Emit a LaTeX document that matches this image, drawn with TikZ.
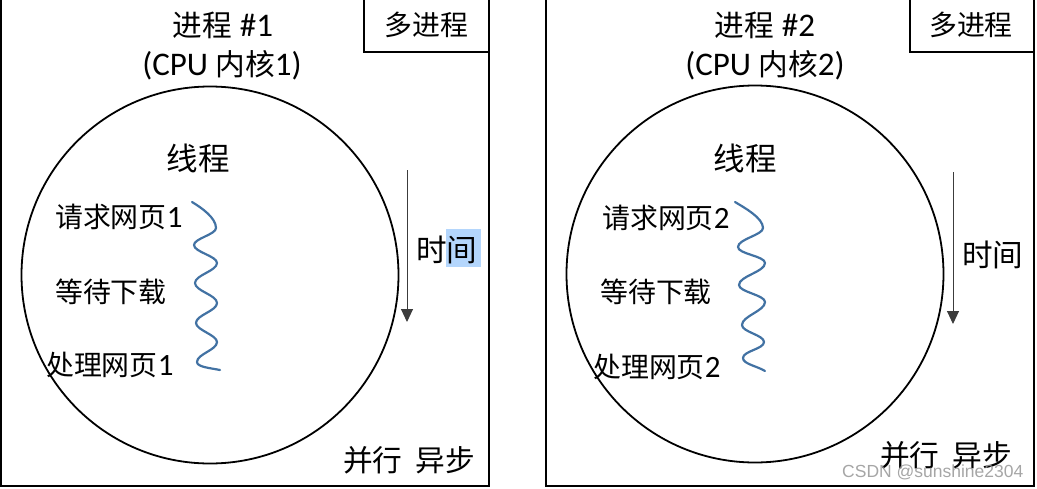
\documentclass[tikz,border=0pt]{standalone}
\usepackage{fontspec}
\setmainfont{Carlito}
\newfontfamily\cjk{Noto Sans CJK SC}[Scale=0.9]
\newfontfamily\wmfont{Liberation Sans}
\usetikzlibrary{arrows.meta}
\definecolor{wavecol}{RGB}{66,114,163}
\definecolor{hlcol}{RGB}{180,214,252}
\definecolor{arrcol}{RGB}{60,60,60}
\definecolor{wmcol}{RGB}{150,150,150}
\tikzset{
  lbl/.style={inner sep=0pt, font=\fontsize{31}{36}\selectfont},
  biglbl/.style={inner sep=0pt, font=\fontsize{33}{38}\selectfont},
  thrlbl/.style={inner sep=0pt, font=\fontsize{35}{40}\selectfont},
  timelbl/.style={inner sep=0pt, font=\fontsize{34}{40}\selectfont},
  panel/.style={draw=black, line width=2pt},
  tagbox/.style={draw=black, line width=1.6pt},
  ring/.style={draw=black, circle, line width=1.8pt, inner sep=0pt, minimum size=377pt},
  timearrow/.style={draw=arrcol, line width=1pt, -{Triangle[width=12pt,length=13pt]}},
  wavy/.style={draw=wavecol, line width=2.2pt, line cap=round},
  wm/.style={inner sep=0pt, text=wmcol, font=\wmfont\fontsize{17.5}{20}\selectfont}
}
\begin{document}
\begin{tikzpicture}[x=1pt,y=-1pt]
\useasboundingbox (0,0) rectangle (1037,488);
% ---------- left panel ----------
\draw[panel] (0.5,-2) rectangle (488.5,485.5);
\draw[tagbox] (364,-2) rectangle (488.5,52);
\node[lbl] (tagL) at (426.5,25) {\cjk 多进程};
\node[biglbl] (procL) at (223,25) {{\cjk 进程} \#1};
\node[biglbl] (cpuL) at (222,65) {(CPU {\cjk 内核}1)};
\node[ring] (ringL) at (210,275) {};
\node[thrlbl] (thrL) at (198,158) {\cjk 线程};
\node[lbl, anchor=west] (reqL) at (55,217) {{\cjk 请求网页}1};
\node[lbl, anchor=west] (waitL) at (55,292) {\cjk 等待下载};
\node[lbl, anchor=west] (procpL) at (46,365) {{\cjk 处理网页}1};
\fill[hlcol] (446,229) rectangle (481,267);
\node[timelbl, anchor=west] (timeL) at (416,250) {\cjk 时间};
\coordinate (aLs) at (407,170);
\coordinate (aLe) at (407,322);
\draw[timearrow] (aLs) -- (aLe);
\node[biglbl, anchor=west] (parL) at (343,460) {{\cjk 并行}\hspace{13pt}{\cjk 异步}};
\draw[wavy] (192,202) .. controls (202,208) and (216,218) .. (216,228)
  .. controls (216,234.5) and (194,238.5) .. (194,245)
  .. controls (194,252) and (217,256) .. (217,263)
  .. controls (217,271) and (195,275) .. (195,283)
  .. controls (195,291) and (217,295) .. (217,303)
  .. controls (217,311) and (196,315) .. (196,323)
  .. controls (196,330) and (217,335) .. (217,342)
  .. controls (217,350) and (197,354) .. (197,362)
  .. controls (197,367) and (210,368) .. (220,370);
% ---------- right panel ----------
\draw[panel] (546,-2) rectangle (1034,485.5);
\draw[tagbox] (910,-2) rectangle (1034,52);
\node[lbl] (tagR) at (971,25) {\cjk 多进程};
\node[biglbl] (procR) at (765,25) {{\cjk 进程} \#2};
\node[biglbl] (cpuR) at (765,65) {(CPU {\cjk 内核}2)};
\node[ring] (ringR) at (755,274) {};
\node[thrlbl] (thrR) at (745,158) {\cjk 线程};
\node[lbl, anchor=west] (reqR) at (602,218) {{\cjk 请求网页}2};
\node[lbl, anchor=west] (waitR) at (600,292) {\cjk 等待下载};
\node[lbl, anchor=west] (procpR) at (593,367) {{\cjk 处理网页}2};
\node[timelbl, anchor=west] (timeR) at (962,255) {\cjk 时间};
\coordinate (aRs) at (953,172);
\coordinate (aRe) at (953,324);
\draw[timearrow] (aRs) -- (aRe);
\node[biglbl, anchor=west] (parR) at (880,455) {{\cjk 并行}\hspace{13pt}{\cjk 异步}};
\begin{scope}[xshift=545pt]
\draw[wavy] (190,202) .. controls (200,208) and (218,218) .. (218,228)
  .. controls (218,235) and (193,239) .. (193,247)
  .. controls (193,254) and (220,256) .. (220,263)
  .. controls (220,272) and (194,276) .. (194,285)
  .. controls (194,292) and (220,295) .. (220,302)
  .. controls (220,311) and (197,316) .. (197,325)
  .. controls (197,332) and (219,335) .. (219,342)
  .. controls (219,349) and (198,351) .. (198,358)
  .. controls (198,364) and (212,366) .. (220,371);
\end{scope}
\node[wm, anchor=west, opacity=0.85] (wmk) at (842,472) {CSDN @sunshine2304};
\end{tikzpicture}
\end{document}
